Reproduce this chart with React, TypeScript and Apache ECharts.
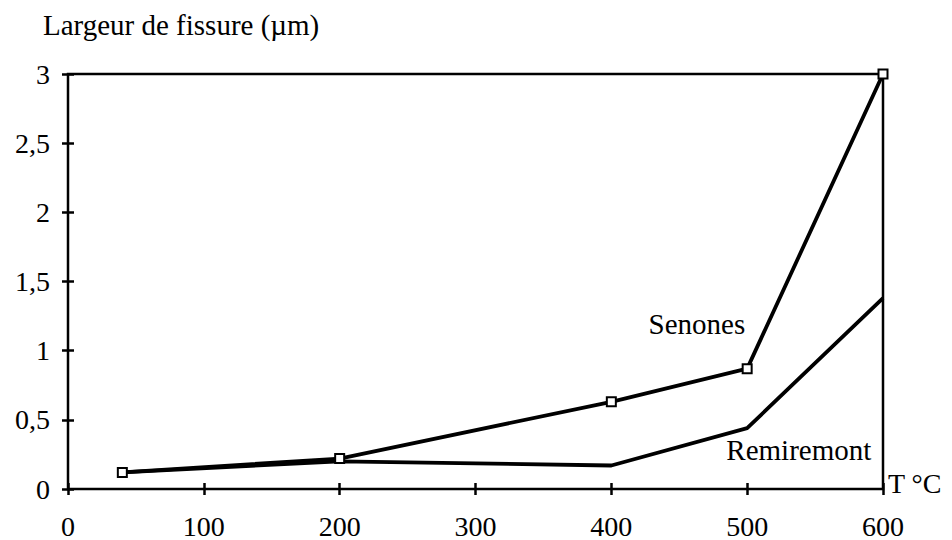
import React, { useEffect, useRef } from "react";
import * as echarts from "echarts";

const temperatures = [40, 200, 400, 500, 600];
const senones = [0.12, 0.22, 0.63, 0.87, 3.0];
const remiremont = [0.12, 0.2, 0.17, 0.44, 1.38];
const yTickLabels = ["0", "0,5", "1", "1,5", "2", "2,5", "3"];
const yTitle = "Largeur de fissure (µm)";
const xTitle = "T °C";
const senonesLabelAt = [463, 1.19];
const remiremontLabelAt = [538, 0.28];

const FONT = '"Liberation Serif", "Times New Roman", serif';

export default function App() {
  const ref = useRef<HTMLDivElement>(null);
  useEffect(() => {
    const chart = echarts.init(ref.current!, null, { renderer: "svg" });
    const labelStyle = { color: "#000", fontFamily: FONT, fontSize: 29 };
    chart.setOption({
      animation: false,
      backgroundColor: "#fff",
      grid: {
        left: 68,
        right: 69,
        top: 74,
        bottom: 51,
        show: true,
        borderColor: "#000",
        borderWidth: 2.5,
        backgroundColor: "transparent",
      },
      graphic: [
        {
          type: "text",
          left: 43,
          top: 10,
          style: { text: yTitle, fill: "#000", font: `29px ${FONT}` },
        },
      ],
      xAxis: {
        type: "value",
        min: 0,
        max: 600,
        interval: 100,
        offset: -6,
        axisLine: { show: false },
        axisTick: { show: true, inside: false, length: 12, lineStyle: { color: "#000", width: 2.5 } },
        splitLine: { show: false },
        axisLabel: { margin: 29, color: "#000", fontFamily: FONT, fontSize: 28 },
        name: xTitle,
        nameLocation: "end",
        nameGap: 5,
        nameTextStyle: { color: "#000", fontFamily: FONT, fontSize: 28 },
      },
      yAxis: {
        type: "value",
        min: 0,
        max: 3,
        interval: 0.5,
        offset: -6,
        axisLine: { show: false },
        axisTick: { show: true, inside: false, length: 12, lineStyle: { color: "#000", width: 2.5 } },
        splitLine: { show: false },
        axisLabel: {
          margin: 24,
          color: "#000",
          fontFamily: FONT,
          fontSize: 28,
          formatter: (v: number) => yTickLabels[Math.round(v / 0.5)],
        },
      },
      series: [
        {
          name: "Remiremont",
          type: "line",
          data: temperatures.map((t, i) => [t, remiremont[i]]),
          symbol: "none",
          lineStyle: { color: "#000", width: 3.8 },
          markPoint: {
            symbol: "circle",
            symbolSize: 0,
            data: [{ coord: remiremontLabelAt, value: "Remiremont" }],
            label: { show: true, position: "inside", formatter: "Remiremont", ...labelStyle },
          },
        },
        {
          name: "Senones",
          type: "line",
          data: temperatures.map((t, i) => [t, senones[i]]),
          symbol: "rect",
          symbolSize: 9,
          itemStyle: { color: "#fff", borderColor: "#000", borderWidth: 2 },
          lineStyle: { color: "#000", width: 3.8 },
          markPoint: {
            symbol: "circle",
            symbolSize: 0,
            data: [{ coord: senonesLabelAt, value: "Senones" }],
            label: { show: true, position: "inside", formatter: "Senones", ...labelStyle },
          },
        },
      ],
    });
    return () => chart.dispose();
  }, []);
  return (
    <div
      ref={ref}
      style={{ position: "fixed", left: 0, top: 0, width: 952, height: 540, background: "#fff" }}
    />
  );
}
